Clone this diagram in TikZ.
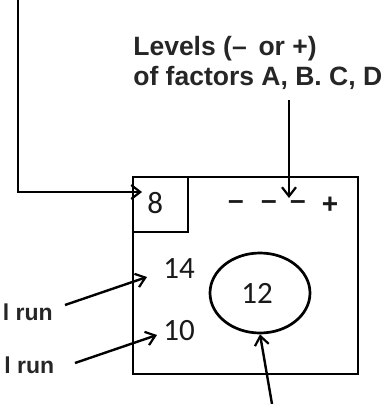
\documentclass[tikz,border=0pt]{standalone}
\usepackage{fontspec}
\setmainfont{Liberation Sans}
\newfontfamily\numfont{Carlito}
\usetikzlibrary{arrows.meta,shapes.geometric}
\begin{document}
\begin{tikzpicture}[x=1pt,y=-1pt,
  line width=2.7pt,
  lbl/.style={font=\fontsize{26.5}{30}\selectfont\bfseries, text=black!85, inner sep=0pt},
  runlbl/.style={font=\fontsize{23}{27}\selectfont\bfseries, text=black!85, inner sep=0pt},
  num/.style={font=\numfont\fontsize{31}{33}\selectfont, text=black!90, inner sep=0pt},
  sgn/.style={font=\fontsize{28}{30}\selectfont\bfseries, text=black!90, inner sep=0pt},
  arr/.style={-{Straight Barb[length=9pt,width=14pt,line width=2.2pt]}, line width=2.4pt}]
\useasboundingbox (0,0) rectangle (383,404);
% main box and small box
\draw (133,177) rectangle (358,374);
\draw (133,177) rectangle (188,232);
% labels
\node[lbl, anchor=base west] (lev1) at (132,56) {Levels (–\, or +)};
\node[lbl, anchor=base west] (lev2) at (132,85) {of factors A, B. C, D};
\node[runlbl, anchor=base west] (run1) at (1.5,320) {l run};
\node[runlbl, anchor=base west] (run2) at (3,373) {l run};
% numbers
\node[num, anchor=base west] (n8) at (146,213) {8};
\node[num, anchor=base west] (n14) at (162,278) {14};
\node[num, anchor=base west] (n10) at (162,340) {10};
\node[draw, ellipse, minimum width=100pt, minimum height=80pt, inner sep=0pt] (ell) at (260,293) {};
\node[num] (n12) at (257,293) {12};
% levels signs
\node[sgn] (d1) at (236,205) {–};
\node[sgn] (d2) at (269,205) {–};
\node[sgn] (d3) at (298,205) {–};
\node[sgn] (pl) at (330,205) {+};
% connectors
\coordinate (tl) at (18,0);
\coordinate (tlc) at (18,192);
\coordinate (tlend) at (142,192);
\draw[arr] (tl) -- (tlc) -- (tlend);
\coordinate (lvtop) at (289,100);
\coordinate (lvend) at (289,198);
\draw[arr] (lvtop) -- (lvend);
\coordinate (r1s) at (65,305);
\coordinate (r1e) at (147,277);
\draw[arr] (r1s) -- (r1e);
\coordinate (r2s) at (75,363);
\coordinate (r2e) at (157,335);
\draw[arr] (r2s) -- (r2e);
\coordinate (bot) at (272,404);
\draw[arr] (bot) -- (ell.south);
\end{tikzpicture}
\end{document}
